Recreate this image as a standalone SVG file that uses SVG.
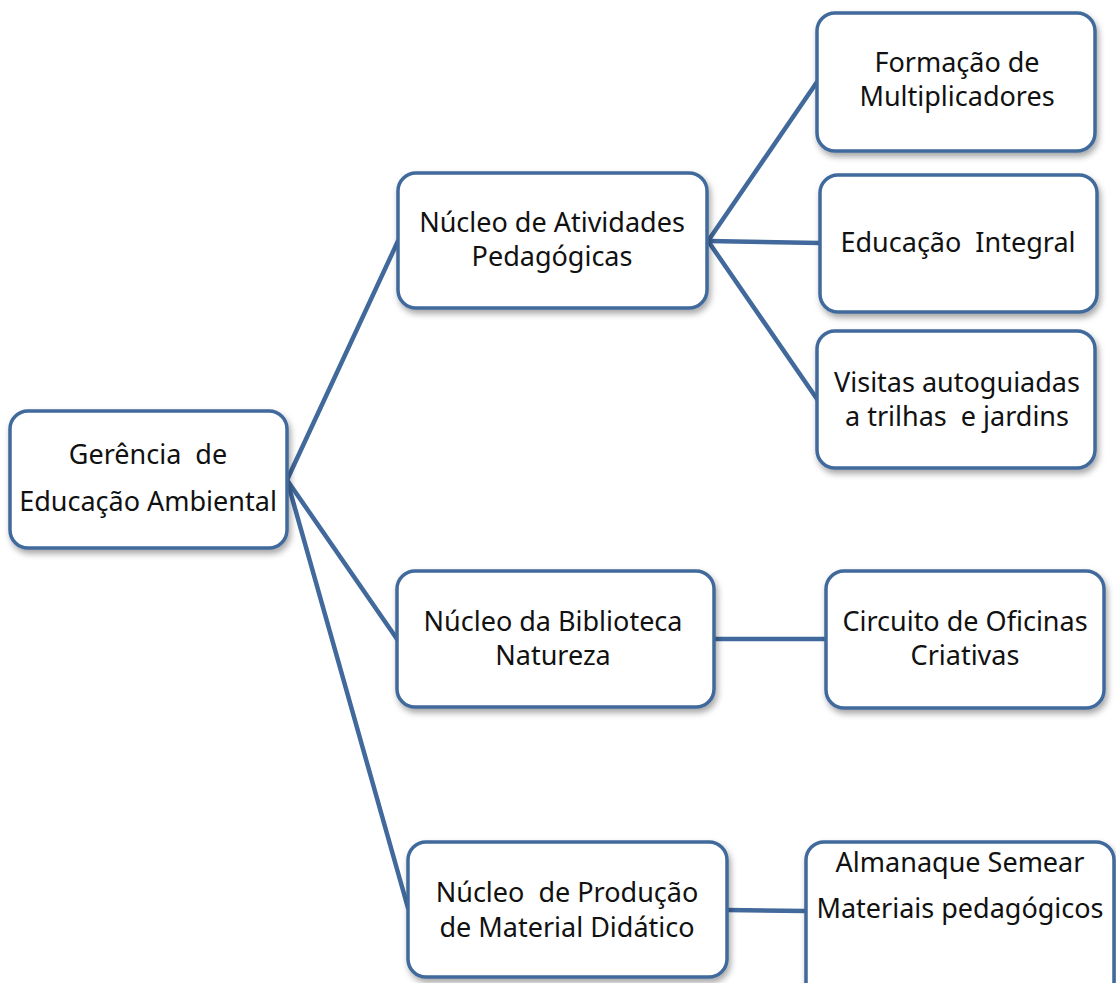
<svg xmlns="http://www.w3.org/2000/svg" width="1116" height="983" viewBox="0 0 1116 983">
<defs>
<filter id="sh" x="-10%" y="-10%" width="125%" height="130%">
<feDropShadow dx="2" dy="4" stdDeviation="3" flood-color="#000" flood-opacity="0.35"/>
</filter>
<style>
.box{fill:#fff;stroke:#41699c;stroke-width:3.5;filter:url(#sh)}
.t{font-family:"Noto Sans","Open Sans","DejaVu Sans",sans-serif;font-size:27px;fill:#111;text-anchor:middle;white-space:pre}
.c{stroke:#41699c;stroke-width:4.5;fill:none;stroke-linecap:round}
</style>
</defs>
<rect width="1116" height="983" fill="#fff"/>
<g id="connectors">
<line class="c" x1="287" y1="480" x2="398" y2="241"/>
<line class="c" x1="287" y1="480" x2="397" y2="639"/>
<line class="c" x1="287" y1="480" x2="408" y2="908"/>
<line class="c" x1="708" y1="241" x2="817" y2="82"/>
<line class="c" x1="708" y1="241" x2="820" y2="243"/>
<line class="c" x1="708" y1="241" x2="817" y2="399"/>
<line class="c" x1="714" y1="639" x2="826" y2="639"/>
<line class="c" x1="727" y1="910" x2="805" y2="911"/>
</g>
<g id="n-gerencia">
<rect class="box" x="10" y="411" width="277" height="137" rx="18"/>
<text class="t" x="148" y="464" xml:space="preserve">Gerência  de</text>
<text class="t" x="148" y="511">Educação Ambiental</text>
</g>
<g id="n-atividades">
<rect class="box" x="398" y="173" width="309" height="135" rx="18"/>
<text class="t" x="552" y="232">Núcleo de Atividades</text>
<text class="t" x="552" y="266">Pedagógicas</text>
</g>
<g id="n-formacao">
<rect class="box" x="817" y="13" width="278" height="138" rx="18"/>
<text class="t" x="957" y="72">Formação de</text>
<text class="t" x="957" y="106">Multiplicadores</text>
</g>
<g id="n-integral">
<rect class="box" x="820" y="175" width="277" height="137" rx="18"/>
<text class="t" x="958" y="252" xml:space="preserve">Educação  Integral</text>
</g>
<g id="n-visitas">
<rect class="box" x="817" y="331" width="278" height="137" rx="18"/>
<text class="t" x="957" y="392">Visitas autoguiadas</text>
<text class="t" x="957" y="426" xml:space="preserve">a trilhas  e jardins</text>
</g>
<g id="n-biblioteca">
<rect class="box" x="397" y="571" width="317" height="136" rx="18"/>
<text class="t" x="553" y="631">Núcleo da Biblioteca</text>
<text class="t" x="553" y="665">Natureza</text>
</g>
<g id="n-circuito">
<rect class="box" x="826" y="571" width="278" height="137" rx="18"/>
<text class="t" x="965" y="631">Circuito de Oficinas</text>
<text class="t" x="965" y="665">Criativas</text>
</g>
<g id="n-producao">
<rect class="box" x="408" y="842" width="319" height="135" rx="18"/>
<text class="t" x="567" y="902" xml:space="preserve">Núcleo  de Produção</text>
<text class="t" x="567" y="937">de Material Didático</text>
</g>
<g id="n-almanaque">
<rect class="box" x="806" y="842" width="308" height="160" rx="18"/>
<text class="t" x="960" y="872">Almanaque Semear</text>
<text class="t" x="960" y="918">Materiais pedagógicos</text>
</g>
</svg>
